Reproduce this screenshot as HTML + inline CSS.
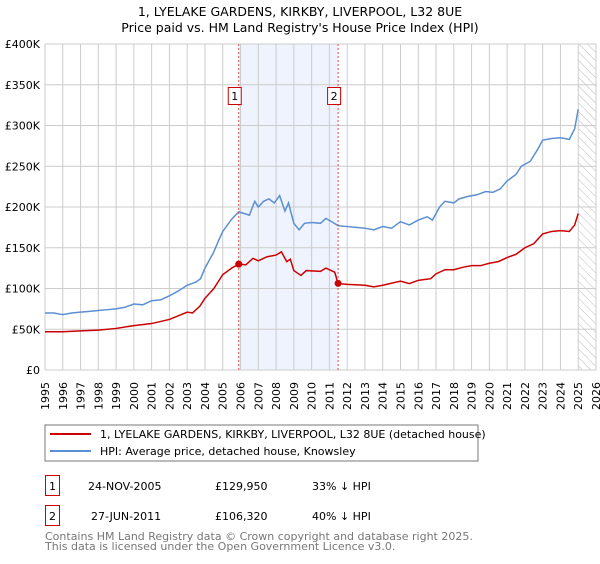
<!DOCTYPE html>
<html><head><meta charset="utf-8"><style>
body{margin:0;background:#fff;font-family:"DejaVu Sans","Liberation Sans",sans-serif;}
svg text{font-family:"DejaVu Sans","Liberation Sans",sans-serif;}
</style></head><body>
<svg width="600" height="560" viewBox="0 0 600 560" xmlns="http://www.w3.org/2000/svg">
<defs><pattern id="hatch" width="6" height="6" patternUnits="userSpaceOnUse" patternTransform="rotate(-45)"><line x1="0" y1="0" x2="0" y2="6" stroke="#bbb" stroke-width="1"/></pattern></defs>
<text x="300" y="16" text-anchor="middle" font-size="12.5">1, LYELAKE GARDENS, KIRKBY, LIVERPOOL, L32 8UE</text>
<text x="300" y="32" text-anchor="middle" font-size="12.5">Price paid vs. HM Land Registry's House Price Index (HPI)</text>
<g id="plot"></g>
<rect x="45" y="425" width="433" height="36" fill="#fff" stroke="#777"/>
<line x1="50" y1="434" x2="91" y2="434" stroke="#cc0000" stroke-width="2"/>
<text x="100" y="438" font-size="11">1, LYELAKE GARDENS, KIRKBY, LIVERPOOL, L32 8UE (detached house)</text>
<line x1="50" y1="451" x2="91" y2="451" stroke="#5b8fd4" stroke-width="2"/>
<text x="100" y="455" font-size="11">HPI: Average price, detached house, Knowsley</text>
<g>
<rect x="45.5" y="475.5" width="14" height="20" fill="#fff" stroke="#cc0000"/>
<text x="52.5" y="490" text-anchor="middle" font-size="11">1</text>
<text x="88" y="490" font-size="11">24-NOV-2005</text>
<text x="215" y="490" font-size="11">£129,950</text>
<text x="312" y="490" font-size="11">33% ↓ HPI</text></g>
<g>
<rect x="45.5" y="505.5" width="14" height="20" fill="#fff" stroke="#cc0000"/>
<text x="52.5" y="520" text-anchor="middle" font-size="11">2</text>
<text x="91" y="520" font-size="11">27-JUN-2011</text>
<text x="215" y="520" font-size="11">£106,320</text>
<text x="312" y="520" font-size="11">40% ↓ HPI</text></g>
<text x="45" y="540" font-size="11" fill="#777">Contains HM Land Registry data © Crown copyright and database right 2025.</text>
<text x="45" y="550" font-size="11" fill="#777">This data is licensed under the Open Government Licence v3.0.</text>
</svg>
<script>
const hpiYears=[1995,1995.5,1996,1996.5,1997,1997.5,1998,1998.5,1999,1999.5,2000,2000.5,2001,2001.5,2002,2002.5,2003,2003.5,2003.75,2004,2004.5,2004.75,2005,2005.5,2005.9,2006.2,2006.5,2006.8,2007,2007.3,2007.6,2007.9,2008.2,2008.5,2008.7,2009,2009.3,2009.6,2010,2010.5,2010.8,2011.2,2011.5,2012,2012.5,2013,2013.5,2014,2014.5,2015,2015.5,2016,2016.5,2016.8,2017.2,2017.5,2018,2018.3,2018.8,2019.3,2019.8,2020.2,2020.6,2021,2021.5,2021.8,2022.3,2022.7,2023,2023.5,2024,2024.5,2024.8,2025];
const hpiValues=[70,70,68,70,71,72,73,74,75,77,81,80,85,86,91,97,104,108,112,125,145,158,170,185,194,192,190,207,200,207,210,205,214,195,205,180,172,180,181,180,186,181,177,176,175,174,172,176,174,182,178,184,188,184,200,207,205,210,213,215,219,218,222,232,240,250,256,270,282,284,285,283,296,320];
const priceYears=[1995,1996,1997,1998,1999,2000,2001,2002,2003,2003.3,2003.7,2004,2004.5,2005,2005.5,2005.9,2006.3,2006.7,2007,2007.5,2008,2008.3,2008.6,2008.8,2009,2009.4,2009.7,2010.5,2010.8,2011.3,2011.49,2012,2013,2013.5,2014,2015,2015.5,2016,2016.7,2017,2017.5,2018,2018.5,2019,2019.5,2020,2020.5,2021,2021.5,2022,2022.5,2023,2023.5,2024,2024.5,2024.8,2025];
const priceValues=[47,47,48,49,51,54.5,57,62,71,70,78,88,100,117,125,130,129,137,134,139,141,145,133,136,122,116,122,121,125,120,106,105,104,102,104,109,106,110,112,118,123,123,126,128,128,131,133,138,142,150,155,167,170,171,170,178,192];
const saleYears=[2005.9,2011.49];
const saleValues=[129.95,106.32];
const saleLabels=["1","2"];
const yTicks=[0,50,100,150,200,250,300,350,400];
const yTickLabels=["£0","£50K","£100K","£150K","£200K","£250K","£300K","£350K","£400K"];
const xTicks=[];for(let y=1995;y<=2026;y++)xTicks.push(y);

const X0=45,X1=596,Y0=370,Y1=44;
const xs=y=>X0+(y-1995)/(2026-1995)*(X1-X0);
const ys=v=>Y0-v/400*(Y0-Y1);
const NS="http://www.w3.org/2000/svg";
const g=document.getElementById('plot');
function mk(t,a){const e=document.createElementNS(NS,t);for(const k in a)e.setAttribute(k,a[k]);g.appendChild(e);return e;}
let e;
e=mk('rect',{x:xs(saleYears[0]),y:Y1,width:xs(saleYears[1])-xs(saleYears[0]),height:Y0-Y1,fill:'#eef3fd'});


e=mk('rect',{x:xs(2025),y:Y1,width:X1-xs(2025),height:Y0-Y1,fill:'url(#hatch)'});


xTicks.forEach(t=>{e=mk('line',{x1:xs(t),x2:xs(t),y1:Y1,y2:Y0,stroke:'#ccc'});


const tx=xs(t)+4,ty=Y0+12;
e=mk('text',{x:tx,y:ty,'text-anchor':'end','font-size':'11',transform:'rotate(-90 '+tx+' '+ty+')'});e.textContent=t;

});
yTicks.forEach((t,i)=>{e=mk('line',{x1:X0,x2:X1,y1:ys(t),y2:ys(t),stroke:'#ccc'});


e=mk('text',{x:X0-5,y:ys(t)+4,'text-anchor':'end','font-size':'11'});e.textContent=yTickLabels[i];

});
e=mk('polyline',{points:hpiYears.map((y,i)=>xs(y)+','+ys(hpiValues[i])).join(' '),fill:'none',stroke:'#5b8fd4','stroke-width':1.5});


e=mk('polyline',{points:priceYears.map((y,i)=>xs(y)+','+ys(priceValues[i])).join(' '),fill:'none',stroke:'#cc0000','stroke-width':1.5});


saleYears.forEach((y,i)=>{
e=mk('line',{x1:xs(y),x2:xs(y),y1:Y1,y2:Y0,stroke:'#e05050','stroke-dasharray':'2,2'});


e=mk('circle',{cx:xs(y),cy:ys(saleValues[i]),r:3.5,fill:'#cc0000'});


e=mk('rect',{x:xs(y)-10.5,y:87.5,width:13,height:17,fill:'#fff',stroke:'#cc0000'});


e=mk('text',{x:xs(y)-4,y:100,'text-anchor':'middle','font-size':'11'});e.textContent=saleLabels[i];

});
</script>
</body></html>
